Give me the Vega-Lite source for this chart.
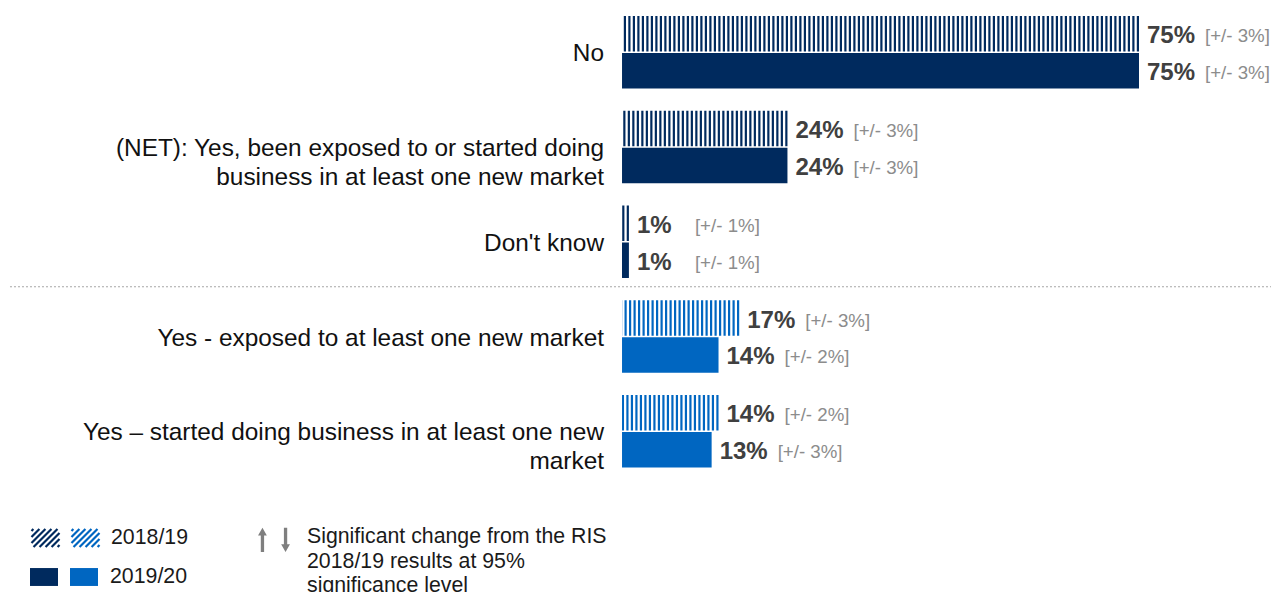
{
  "$schema": "https://vega.github.io/schema/vega-lite/v6.json",
  "width": 1271,
  "height": 592,
  "autosize": {"type": "none"},
  "padding": 0,
  "background": "white",
  "config": {
    "view": {"stroke": null},
    "font": "Liberation Sans",
    "legend": {"padding": 0}
  },
  "data": {
    "values": [
      {"category": "No", "year": "2018/19", "value": 0.75, "moe": "[+/- 3%]", "section": "overall"},
      {"category": "No", "year": "2019/20", "value": 0.75, "moe": "[+/- 3%]", "section": "overall"},
      {"category": "(NET): Yes, been exposed to or started doing\nbusiness in at least one new market", "year": "2018/19", "value": 0.24, "moe": "[+/- 3%]", "section": "overall"},
      {"category": "(NET): Yes, been exposed to or started doing\nbusiness in at least one new market", "year": "2019/20", "value": 0.24, "moe": "[+/- 3%]", "section": "overall"},
      {"category": "Don't know", "year": "2018/19", "value": 0.01, "moe": "[+/- 1%]", "section": "overall"},
      {"category": "Don't know", "year": "2019/20", "value": 0.01, "moe": "[+/- 1%]", "section": "overall"},
      {"category": "Yes - exposed to at least one new market", "year": "2018/19", "value": 0.17, "moe": "[+/- 3%]", "section": "detail"},
      {"category": "Yes - exposed to at least one new market", "year": "2019/20", "value": 0.14, "moe": "[+/- 2%]", "section": "detail"},
      {"category": "Yes \u2013 started doing business in at least one new\nmarket", "year": "2018/19", "value": 0.14, "moe": "[+/- 2%]", "section": "detail"},
      {"category": "Yes \u2013 started doing business in at least one new\nmarket", "year": "2019/20", "value": 0.13, "moe": "[+/- 3%]", "section": "detail"}
    ]
  },
  "encoding": {
    "y": {
      "field": "category",
      "type": "nominal",
      "axis": null,
      "scale": {
        "domain": [
          "No",
          "(NET): Yes, been exposed to or started doing\nbusiness in at least one new market",
          "Don't know",
          "Yes - exposed to at least one new market",
          "Yes \u2013 started doing business in at least one new\nmarket"
        ],
        "paddingInner": 0.235,
        "paddingOuter": 0.7414,
        "align": 0.1139
      }
    },
    "x": {
      "field": "value",
      "type": "quantitative",
      "axis": null,
      "stack": null,
      "scale": {"domain": [-0.9024, 0.9415], "nice": false}
    }
  },
  "layer": [
    {
      "transform": [{"filter": "datum.section == 'overall' && datum.year == '2019/20'"}],
      "mark": {"type": "bar"},
      "encoding": {
        "yOffset": {"field": "year", "type": "nominal", "scale": {"domain": ["2018/19", "2019/20"], "paddingInner": 0.04}},
        "fill": {
          "field": "year",
          "type": "nominal",
          "scale": {"domain": ["2019/20"], "range": ["#002A5E"]},
          "legend": {
            "orient": "none",
            "legendX": 30,
            "legendY": 563,
            "title": null,
            "symbolType": "M-1,-0.64H1V0.64H-1Z",
            "symbolSize": 784,
            "symbolStrokeWidth": 0,
            "labelExpr": "''",
            "labelOffset": 12
          }
        }
      }
    },
    {
      "transform": [{"filter": "datum.section == 'detail' && datum.year == '2019/20'"}],
      "mark": {"type": "bar"},
      "encoding": {
        "yOffset": {"field": "year", "type": "nominal", "scale": {"domain": ["2018/19", "2019/20"], "paddingInner": 0.04}},
        "fill": {
          "field": "year",
          "type": "nominal",
          "scale": {"domain": ["2019/20"], "range": ["#0066C1"]},
          "legend": {
            "orient": "none",
            "legendX": 70,
            "legendY": 563,
            "title": null,
            "symbolType": "M-1,-0.64H1V0.64H-1Z",
            "symbolSize": 784,
            "symbolStrokeWidth": 0,
            "labelFontSize": 21.3,
            "labelFont": "Liberation Sans",
            "labelColor": "#1A1A1A",
            "labelOffset": 12
          }
        }
      }
    },
    {
      "transform": [{"filter": "datum.year == '2018/19'"}],
      "mark": {"type": "rule", "strokeWidth": 35.5, "strokeDash": [2.2, 2.3], "strokeCap": "butt"},
      "encoding": {
        "yOffset": {"field": "year", "type": "nominal", "scale": {"domain": ["2018/19", "2019/20"], "paddingInner": 0.04}},
        "x2": {"datum": 0},
        "color": {"condition": {"test": "datum.section == 'overall'", "value": "#002A5E"}, "value": "#0066C1"}
      }
    },
    {
      "mark": {"type": "text", "align": "left", "baseline": "middle", "dx": 8, "dy": 2.5, "fontSize": 24, "fontWeight": "bold", "color": "#404040", "font": "Liberation Sans"},
      "encoding": {
        "yOffset": {"field": "year", "type": "nominal", "scale": {"domain": ["2018/19", "2019/20"], "paddingInner": 0.04}},
        "text": {"field": "value", "type": "quantitative", "format": ".0%"}
      }
    },
    {
      "mark": {"type": "text", "align": "left", "baseline": "middle", "dx": 66, "dy": 2.5, "fontSize": 18.7, "color": "#8C8C8C", "font": "Liberation Sans"},
      "encoding": {
        "yOffset": {"field": "year", "type": "nominal", "scale": {"domain": ["2018/19", "2019/20"], "paddingInner": 0.04}},
        "text": {"field": "moe", "type": "nominal"}
      }
    },
    {
      "transform": [{"filter": "datum.year == '2019/20'"}],
      "mark": {"type": "text", "align": "right", "baseline": "middle", "dx": -18, "dy": 2, "fontSize": 24.4, "color": "#111111", "lineBreak": "\n", "lineHeight": 29, "font": "Liberation Sans"},
      "encoding": {
        "x": {"datum": 0},
        "text": {"field": "category", "type": "nominal"}
      }
    },
    {
      "transform": [{"filter": "datum.year == '2019/20' && datum.category == 'Yes - exposed to at least one new market'"}],
      "mark": {"type": "rule", "strokeDash": [2, 2], "color": "#A6A6A6", "strokeWidth": 1, "yOffset": -13.5},
      "encoding": {
        "y": {"field": "category", "type": "nominal", "bandPosition": 0},
        "x": {"datum": -0.8879},
        "x2": {"datum": 0.9415}
      }
    },
    {
      "transform": [{"filter": "datum.year == '2018/19' && datum.category == 'No'"}],
      "mark": {"type": "point", "opacity": 0, "filled": false, "color": "#002A5E"},
      "encoding": {
        "shape": {
          "field": "year",
          "type": "nominal",
          "scale": {"domain": ["2018/19"], "range": ["M-0.865,-0.64L-1,-0.505M-0.435,-0.64L-1,-0.075M-0.005,-0.64L-1,0.355M0.425,-0.64L-0.855,0.64M0.855,-0.64L-0.425,0.64M1,-0.355L0.005,0.64M1,0.075L0.435,0.64M1,0.505L0.865,0.64"]},
          "legend": {
            "orient": "none",
            "legendX": 30,
            "legendY": 522.5,
            "title": null,
            "symbolSize": 784,
            "symbolStrokeColor": "#002A5E",
            "symbolFillColor": "transparent",
            "symbolStrokeWidth": 2.2,
            "symbolOpacity": 1,
            "labelExpr": "''",
            "labelOffset": 12
          }
        }
      }
    },
    {
      "transform": [{"filter": "datum.year == '2018/19' && datum.category == 'No'"}],
      "mark": {"type": "point", "opacity": 0, "filled": false, "color": "#0066C1"},
      "encoding": {
        "shape": {
          "field": "year",
          "type": "nominal",
          "scale": {"domain": ["2018/19"], "range": ["M-0.865,-0.64L-1,-0.505M-0.435,-0.64L-1,-0.075M-0.005,-0.64L-1,0.355M0.425,-0.64L-0.855,0.64M0.855,-0.64L-0.425,0.64M1,-0.355L0.005,0.64M1,0.075L0.435,0.64M1,0.505L0.865,0.64"]},
          "legend": {
            "orient": "none",
            "legendX": 70,
            "legendY": 522.5,
            "title": null,
            "symbolSize": 784,
            "symbolStrokeColor": "#0066C1",
            "symbolFillColor": "transparent",
            "symbolStrokeWidth": 2.2,
            "symbolOpacity": 1,
            "labelFontSize": 21.3,
            "labelFont": "Liberation Sans",
            "labelColor": "#1A1A1A",
            "labelOffset": 10
          }
        }
      }
    },
    {
      "transform": [{"filter": "datum.year == '2019/20' && datum.category == 'No'"}],
      "mark": {"type": "point", "opacity": 0, "filled": true, "color": "#7F7F7F"},
      "encoding": {
        "shape": {
          "field": "year",
          "type": "nominal",
          "scale": {"domain": ["2019/20"], "range": ["M-1.2,1.37L-1.2,-0.13L-1.45,-0.13L-1.05,-0.83L-0.65,-0.13L-0.9,-0.13L-0.9,1.37Z M0.9,-0.83L0.9,0.67L0.65,0.67L1.05,1.37L1.45,0.67L1.2,0.67L1.2,-0.83Z"]},
          "legend": {
            "orient": "none",
            "legendX": 263,
            "legendY": 526,
            "title": ["Significant change from the RIS", "2018/19 results at 95%", "significance level"],
            "titleOrient": "right",
            "titleAnchor": "start",
            "titleBaseline": "top",
            "titleFont": "Liberation Sans",
            "titleFontSize": 21.3,
            "titleFontWeight": "normal",
            "titleColor": "#1A1A1A",
            "titleLineHeight": 24.5,
            "titlePadding": 17,
            "titleLimit": 0,
            "symbolSize": 484,
            "symbolFillColor": "#7F7F7F",
            "symbolStrokeWidth": 0,
            "symbolOpacity": 1,
            "labelExpr": "''",
            "labelOffset": 0
          }
        }
      }
    }
  ],
  "resolve": {"scale": {"fill": "independent", "shape": "independent"}}
}
